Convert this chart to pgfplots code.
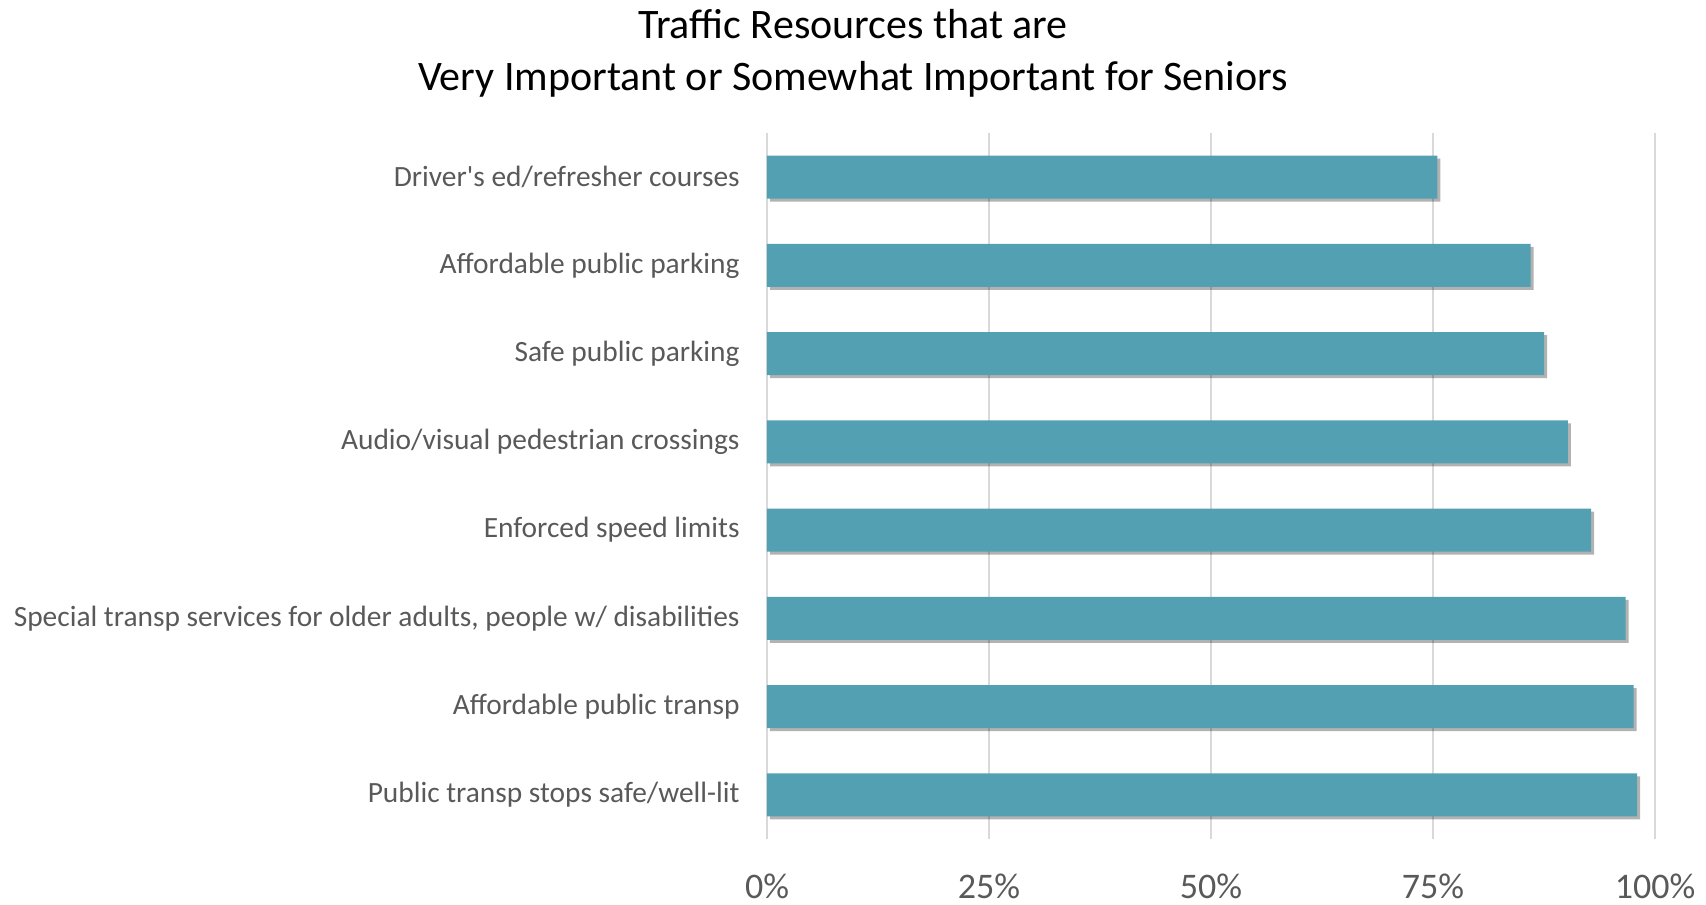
\documentclass[border=0pt]{standalone}
\usepackage{pgfplots}
\pgfplotsset{compat=1.18}
\usepackage{fontspec}
\setmainfont{Carlito}
\usetikzlibrary{shadows}
\definecolor{barc}{RGB}{84,160,179}
\definecolor{lab}{RGB}{89,89,89}
\definecolor{grd}{RGB}{217,217,217}
\begin{document}
\begin{tikzpicture}
\begin{axis}[
  scale only axis,
  width=444pt, height=353pt,
  xmin=0, xmax=100, ymin=0.5, ymax=8.5,
  xtick={0,25,50,75,100},
  xticklabels={0\%,25\%,50\%,75\%,100\%},
  ytick={1,2,3,4,5,6,7,8},
  yticklabels={Public transp stops safe/well-lit, Affordable public transp, {Special transp services for older adults, people w/ disabilities}, Enforced speed limits, Audio/visual pedestrian crossings, Safe public parking, Affordable public parking, Driver\textquotesingle s ed/refresher courses},
  major tick length=0pt,
  xmajorgrids, major grid style={grd, line width=0.8pt},
  axis lines*=left,
  x axis line style={draw=none},
  y axis line style={draw=grd, line width=0.8pt},
  xticklabel style={font=\fontsize{18pt}{22pt}\selectfont, text=lab, anchor=base, yshift=-29.5pt},
  yticklabel style={font=\fontsize{14.7pt}{18pt}\selectfont, text=lab, anchor=east, inner sep=0pt, xshift=-13.5pt},
  clip=false,
]
\addplot[xbar, bar width=21.5pt, fill=barc, draw=none,
  drop shadow={shadow xshift=1.5pt, shadow yshift=-1.5pt, opacity=0.3, fill=black}]
  coordinates {(98.0,1) (97.6,2) (96.7,3) (92.8,4) (90.2,5) (87.5,6) (86.0,7) (75.5,8)};
\end{axis}
\node[align=center, font=\fontsize{21pt}{26pt}\selectfont, text=black] at (43pt,392.8pt) {Traffic Resources that are\\Very Important or Somewhat Important for Seniors};
\pgfresetboundingbox
\useasboundingbox (-383.5pt,-32.5pt) rectangle (469.5pt,419.5pt);
\end{tikzpicture}
\end{document}
